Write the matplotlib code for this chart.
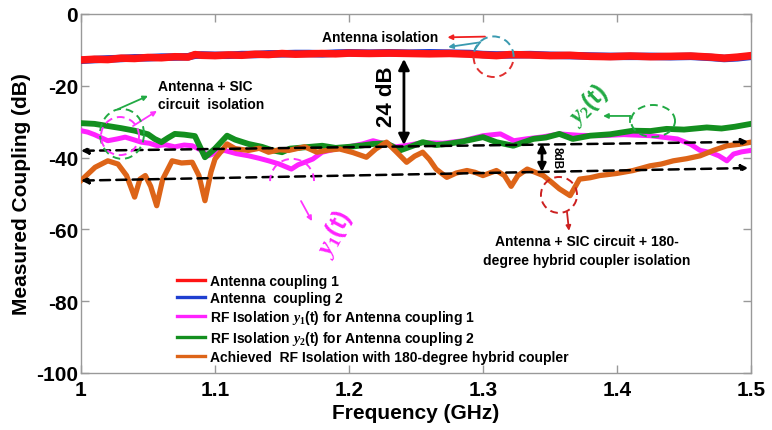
import matplotlib
matplotlib.use("Agg")
import matplotlib.pyplot as plt
from matplotlib.patches import Arc

plt.rcParams["font.family"] = ["Liberation Sans", "DejaVu Sans"]
plt.rcParams["font.weight"] = "bold"
plt.rcParams["axes.unicode_minus"] = False
plt.rcParams["mathtext.fontset"] = "custom"
plt.rcParams["mathtext.it"] = "Liberation Serif:italic:bold"
plt.rcParams["mathtext.rm"] = "Liberation Serif:bold"
plt.rcParams["mathtext.bf"] = "Liberation Serif:bold"

# ---------------- measured data (frequency in GHz, coupling in dB) ----------------
ant1_f = [1.000, 1.010, 1.020, 1.030, 1.040, 1.050, 1.060, 1.070, 1.080, 1.085, 1.090,
          1.100, 1.110, 1.120, 1.130, 1.140, 1.150, 1.160, 1.170, 1.180, 1.190, 1.200,
          1.215, 1.230, 1.245, 1.260, 1.275, 1.290, 1.300, 1.310, 1.320, 1.335, 1.350,
          1.365, 1.380, 1.395, 1.410, 1.425, 1.440, 1.455, 1.470, 1.480, 1.490, 1.500]
ant1_db = [-12.8, -12.6, -12.7, -12.3, -12.4, -12.1, -12.2, -11.9, -12.0, -11.3, -11.5,
           -11.6, -11.4, -11.5, -11.2, -11.3, -11.0, -11.2, -11.1, -11.0, -11.1, -10.9,
           -11.0, -10.9, -11.0, -11.1, -11.0, -11.2, -11.4, -11.6, -11.3, -11.4, -11.6,
           -11.5, -11.8, -11.9, -11.7, -11.9, -11.8, -11.7, -12.0, -12.3, -12.0, -11.6]

ant2_f = ant1_f
ant2_db = [-12.9, -12.7, -12.5, -12.4, -12.2, -12.2, -12.0, -12.0, -11.9, -11.5, -11.4,
           -11.5, -11.5, -11.3, -11.3, -11.1, -11.1, -11.0, -11.0, -11.1, -10.9, -10.8,
           -10.9, -10.8, -10.9, -10.8, -10.9, -11.0, -11.3, -11.4, -11.4, -11.3, -11.5,
           -11.6, -11.7, -11.8, -11.8, -11.8, -11.9, -11.8, -12.1, -12.4, -12.2, -11.8]

y1_f = [1.000, 1.005, 1.010, 1.020, 1.027, 1.033, 1.040, 1.045, 1.051, 1.057, 1.063,
        1.070, 1.077, 1.083, 1.089, 1.095, 1.101, 1.107, 1.116, 1.125, 1.133, 1.140,
        1.148, 1.157, 1.162, 1.167, 1.173, 1.180, 1.190, 1.200, 1.210, 1.218, 1.226,
        1.235, 1.245, 1.255, 1.270, 1.285, 1.300, 1.313, 1.323, 1.332, 1.345, 1.357,
        1.372, 1.387, 1.405, 1.425, 1.445, 1.455, 1.462, 1.470, 1.476, 1.482, 1.487,
        1.493, 1.500]
y1_db = [-32.5, -32.9, -33.6, -35.3, -34.8, -34.3, -35.1, -35.7, -36.0, -36.7, -36.4,
         -37.0, -36.5, -36.7, -37.8, -39.5, -38.6, -38.0, -38.9, -39.5, -40.2, -40.9,
         -41.8, -43.2, -42.0, -41.3, -40.4, -38.5, -37.6, -37.0, -36.2, -35.3, -36.1,
         -37.0, -36.5, -35.8, -36.0, -35.3, -33.9, -33.4, -35.3, -34.8, -34.2, -33.4,
         -33.8, -33.9, -33.6, -33.9, -34.8, -36.3, -38.0, -38.6, -39.5, -40.9, -39.0,
         -38.4, -38.0]

y2_f = [1.000, 1.010, 1.020, 1.030, 1.040, 1.050, 1.055, 1.060, 1.065, 1.070, 1.077,
        1.085, 1.0925, 1.100, 1.109, 1.115, 1.125, 1.135, 1.143, 1.150, 1.156, 1.165,
        1.180, 1.190, 1.200, 1.210, 1.218, 1.228, 1.238, 1.247, 1.255, 1.265, 1.273,
        1.285, 1.300, 1.310, 1.3226, 1.3375, 1.347, 1.357, 1.367, 1.380, 1.395, 1.412,
        1.425, 1.437, 1.450, 1.467, 1.478, 1.488, 1.500]
y2_db = [-30.4, -30.6, -31.2, -31.8, -32.5, -33.5, -34.8, -35.7, -34.5, -33.4, -33.6,
         -34.0, -39.9, -37.5, -33.9, -35.0, -36.2, -37.0, -38.0, -38.5, -37.5, -37.2,
         -36.7, -37.3, -37.0, -36.6, -36.2, -36.0, -38.0, -36.8, -35.7, -36.5, -36.2,
         -35.5, -34.3, -35.7, -36.7, -34.8, -34.4, -33.4, -34.8, -33.9, -33.5, -32.5,
         -32.6, -32.0, -32.2, -31.6, -31.9, -31.4, -30.6]

hyb_f = [1.000, 1.0105, 1.020, 1.0276, 1.034, 1.040, 1.044, 1.048, 1.052, 1.0565, 1.061,
         1.068, 1.075, 1.083, 1.088, 1.0925, 1.097, 1.100, 1.109, 1.115, 1.125, 1.133,
         1.140, 1.148, 1.155, 1.167, 1.176, 1.185, 1.193, 1.203, 1.213, 1.220, 1.228,
         1.2356, 1.243, 1.249, 1.255, 1.260, 1.265, 1.273, 1.280, 1.288, 1.294, 1.300,
         1.310, 1.316, 1.321, 1.326, 1.333, 1.345, 1.351, 1.357, 1.365, 1.372, 1.380,
         1.387, 1.400, 1.412, 1.4246, 1.433, 1.442, 1.452, 1.462, 1.472, 1.482, 1.491,
         1.500]
hyb_db = [-46.4, -42.7, -40.9, -41.8, -45.0, -51.0, -46.0, -45.0, -48.0, -53.4, -46.0,
          -40.9, -41.5, -41.3, -45.0, -52.0, -44.0, -40.4, -36.2, -37.5, -38.0, -37.4,
          -38.5, -37.8, -38.0, -37.0, -38.5, -37.9, -37.6, -38.6, -39.9, -37.6, -35.7,
          -38.5, -41.3, -39.6, -38.5, -40.5, -43.2, -45.5, -44.3, -43.6, -44.1, -45.0,
          -43.6, -45.0, -48.0, -45.0, -43.2, -45.0, -46.8, -48.7, -50.6, -46.0, -45.6,
          -45.0, -44.4, -43.6, -42.3, -41.8, -40.9, -40.3, -39.5, -38.0, -36.7, -36.3,
          -35.7]

series_labels = [
    "Antenna coupling 1",
    "Antenna  coupling 2",
    r"RF Isolation $y_1$(t) for Antenna coupling 1",
    r"RF Isolation $y_2$(t) for Antenna coupling 2",
    "Achieved  RF Isolation with 180-degree hybrid coupler",
]

# reference trend lines (start/end values, dB)
upper_trend_db = [-38.1, -35.6]
lower_trend_db = [-46.4, -42.9]
trend_f = [1.0, 1.498]

c_red, c_blue, c_mag, c_green, c_orange = "#ff1414", "#1f3fd0", "#ff22ff", "#138f1f", "#dd6418"

fig = plt.figure(figsize=(7.72, 4.31), dpi=100)
ax = fig.add_axes([81 / 772, 1 - 374 / 431, 670 / 772, 359 / 431])

l_mag, = ax.plot(y1_f, y1_db, color=c_mag, lw=3.6, solid_joinstyle="round", zorder=3)
l_green, = ax.plot(y2_f, y2_db, color=c_green, lw=4.2, solid_joinstyle="round", zorder=4)
l_orange, = ax.plot(hyb_f, hyb_db, color=c_orange, lw=3.8, solid_joinstyle="round", zorder=5)
l_blue, = ax.plot(ant2_f, ant2_db, color=c_blue, lw=5.4, zorder=6)
l_red, = ax.plot(ant1_f, ant1_db, color=c_red, lw=5.4, zorder=7)

ax.set_xlim(1.0, 1.5)
ax.set_ylim(-100, 0)
ax.set_xticks([1.0, 1.1, 1.2, 1.3, 1.4, 1.5])
ax.set_xticklabels(["1", "1.1", "1.2", "1.3", "1.4", "1.5"])
ax.set_yticks([0, -20, -40, -60, -80, -100])
ax.set_yticklabels(["0", "-20", "-40", "-60", "-80", "-100"])
ax.tick_params(axis="both", direction="in", length=6, width=1, color="#999999",
               top=True, right=True)
ax.tick_params(axis="x", labelsize=15, pad=5)
ax.tick_params(axis="y", labelsize=15, pad=2)
for lab in ax.get_xticklabels() + ax.get_yticklabels():
    lab.set_fontweight("bold")
for s in ax.spines.values():
    s.set_color("#999999")
    s.set_linewidth(1.0)
ax.set_xlabel("Frequency (GHz)", fontsize=15, fontweight="bold", labelpad=3)
ax.set_ylabel("Measured Coupling (dB)", fontsize=15, fontweight="bold", labelpad=4)

# dashed trend lines with arrow heads at both ends
for tr in (upper_trend_db, lower_trend_db):
    ax.annotate("", xy=(trend_f[1], tr[1]), xytext=(trend_f[0], tr[0]),
                arrowprops=dict(arrowstyle="<|-|>", color="black", lw=1.8,
                                linestyle=(0, (4, 2.5)), mutation_scale=10,
                                shrinkA=0, shrinkB=0), zorder=8)

# 24 dB gap between antenna coupling and SIC isolation
gap_top = -12.5
ax.annotate("", xy=(1.241, gap_top), xytext=(1.241, gap_top - 24),
            arrowprops=dict(arrowstyle="<|-|>", color="black", lw=2.0,
                            mutation_scale=16, shrinkA=0, shrinkB=0), zorder=9)
ax.text(1.228, -22.8, "24 dB", rotation=90, fontsize=16, fontweight="bold",
        ha="center", va="center")

# 8 dB improvement from the hybrid coupler
gap8_top = -36.0
ax.annotate("", xy=(1.344, gap8_top), xytext=(1.344, gap8_top - 8),
            arrowprops=dict(arrowstyle="<|-|>", color="black", lw=2.0,
                            mutation_scale=12, shrinkA=0, shrinkB=0), zorder=9)
ax.text(1.355, -39.8, "8dB", rotation=270, fontsize=8.5, fontweight="bold",
        ha="center", va="center")

# antenna isolation annotation
ax.text(1.223, -6.4, "Antenna isolation", fontsize=10, fontweight="bold",
        ha="center", va="center")
ax.annotate("", xy=(1.2735, -6.5), xytext=(1.3015, -6.3),
            arrowprops=dict(arrowstyle="-|>", color="#f02020", lw=1.3,
                            mutation_scale=7, shrinkA=0, shrinkB=0))
ax.plot([1.294, 1.2978], [-9.8, -7.9], color="#3a9ab0", lw=1.3)
ax.annotate("", xy=(1.274, -9.2), xytext=(1.2978, -7.9),
            arrowprops=dict(arrowstyle="-|>", color="#3a9ab0", lw=1.3,
                            mutation_scale=7, shrinkA=0, shrinkB=0))
ax.add_patch(Arc((1.3079, -11.9), 0.0299, 11.3, theta1=100, theta2=300,
                 color="#e03030", lw=1.4, linestyle=(0, (4, 2.5)), zorder=8))
ax.add_patch(Arc((1.3079, -11.9), 0.0299, 11.3, theta1=-60, theta2=100,
                 color="#3a9ab0", lw=1.4, linestyle=(0, (4, 2.5)), zorder=8))

# SIC circuit isolation annotation
ax.add_patch(Arc((1.0306, -33.4), 0.0328, 13.9, color="#22aa44", lw=1.4,
                 linestyle=(0, (4, 2.5)), zorder=10))
ax.add_patch(Arc((1.0291, -34.0), 0.0284, 10.6, color="#ff33ff", lw=1.4,
                 linestyle=(0, (4, 2.5)), zorder=10))
ax.annotate("", xy=(1.050, -22.8), xytext=(1.0276, -26.5),
            arrowprops=dict(arrowstyle="-|>", color="#22aa44", lw=1.3,
                            mutation_scale=7, shrinkA=0, shrinkB=0))
ax.annotate("", xy=(1.0567, -27.0), xytext=(1.0388, -31.2),
            arrowprops=dict(arrowstyle="-|>", color="#ff33ff", lw=1.3,
                            mutation_scale=7, shrinkA=0, shrinkB=0))
ax.text(1.0575, -22.6, "Antenna + SIC\ncircuit  isolation", fontsize=10,
        fontweight="bold", ha="left", va="center", linespacing=1.35)

# y1(t) marker
ax.add_patch(Arc((1.1575, -46.5), 0.0328, 12.3, theta1=-60, theta2=250,
                 color="#ff33ff", lw=1.4, linestyle=(0, (4, 2.5)), zorder=10))
ax.annotate("", xy=(1.1724, -57.7), xytext=(1.1642, -52.1),
            arrowprops=dict(arrowstyle="-|>", color="#ff33ff", lw=1.3,
                            mutation_scale=7, shrinkA=0, shrinkB=0))
ax.text(1.189, -61.0, r"$y_1$(t)", color="#ff22ff", fontsize=18,
        fontweight="bold", rotation=62, ha="center", va="center")

# y2(t) marker
ax.add_patch(Arc((1.4269, -29.8), 0.0328, 8.9, color="#22aa44", lw=1.4,
                 linestyle=(0, (4, 2.5)), zorder=10))
ax.plot([1.4097, 1.4097], [-30.1, -28.4], color="#22aa44", lw=1.3)
ax.annotate("", xy=(1.3896, -28.4), xytext=(1.4097, -28.4),
            arrowprops=dict(arrowstyle="-|>", color="#22aa44", lw=1.3,
                            mutation_scale=7, shrinkA=0, shrinkB=0))
ax.text(1.378, -25.0, r"$y_2$(t)", color="#22aa44", fontsize=17,
        fontweight="bold", rotation=45, ha="center", va="center")

# hybrid coupler isolation annotation
ax.add_patch(Arc((1.3567, -50.4), 0.0269, 10.0, color="#cc2020", lw=1.4,
                 linestyle=(0, (4, 2.5)), zorder=10))
ax.annotate("", xy=(1.3642, -60.4), xytext=(1.3627, -55.2),
            arrowprops=dict(arrowstyle="-|>", color="#cc2020", lw=1.3,
                            mutation_scale=7, shrinkA=0, shrinkB=0))
ax.text(1.3776, -66.0, "Antenna + SIC circuit + 180-\ndegree hybrid coupler isolation",
        fontsize=10, fontweight="bold", ha="center", va="center", linespacing=1.45)

leg = ax.legend([l_red, l_blue, l_mag, l_green, l_orange], series_labels,
                loc="upper left", bbox_to_anchor=(0.143, 0.277), frameon=False,
                fontsize=10, handlelength=2.0, handletextpad=0.4,
                labelspacing=0.22, borderpad=0, borderaxespad=0)
for h in leg.get_lines():
    h.set_linewidth(2.4)
for t in leg.get_texts():
    t.set_fontweight("bold")

fig.savefig("out.png", dpi=100, facecolor="white")
